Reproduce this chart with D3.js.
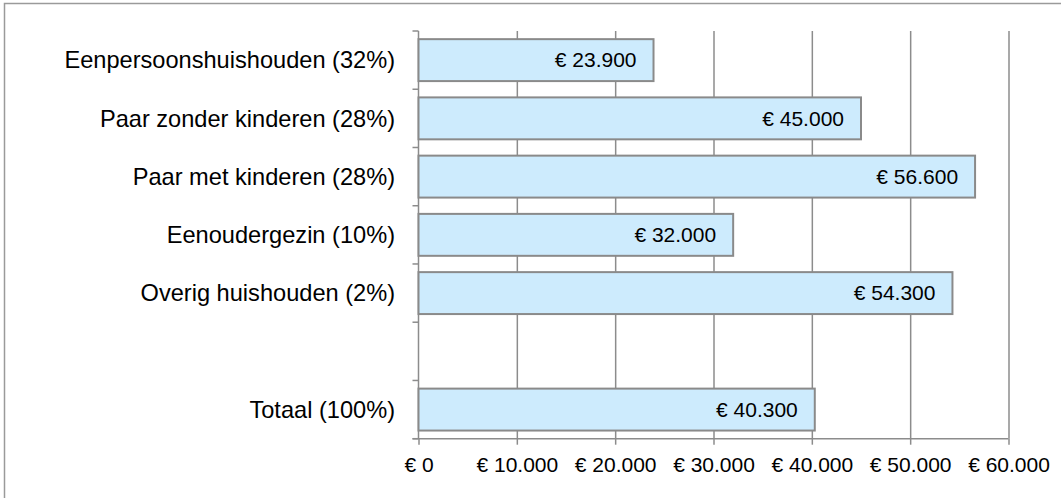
<!DOCTYPE html>
<html>
<head>
<meta charset="utf-8">
<script src="https://cdn.jsdelivr.net/npm/d3@7"></script>
<style>
    body { margin: 0; background: #fff; }
    svg { display: block; font-family: Arial, "Liberation Sans", sans-serif; }
    .cat text { font-size: 23.6px; fill: #000; }
    .x.axis text { font-size: 21px; fill: #000; }
    .val { font-size: 21px; fill: #000; }
</style>
</head>
<body>
<div id="chart"></div>
<script>
// household types, the blank entry is the gap before the total
var categories = ["Eenpersoonshuishouden (32%)", "Paar zonder kinderen (28%)", "Paar met kinderen (28%)",
    "Eenoudergezin (10%)", "Overig huishouden (2%)", "", "Totaal (100%)"];
var values = [23900, 45000, 56600, 32000, 54300, null, 40300];
var tickValues = [0, 10000, 20000, 30000, 40000, 50000, 60000];

var width = 1061, height = 498;
var margin = { top: 31, bottom: 59.3, left: 418.5, right: 52.5 };

var nl = d3.formatLocale({ decimal: ",", thousands: ".", grouping: [3], currency: ["€ ", ""] });
var euro = function (v) { return "€ " + nl.format(",")(v); };

var svg = d3.select("#chart").append("svg")
    .attr("width", width)
    .attr("height", height);

// outer frame (runs off the right and bottom edge)
svg.append("rect")
    .attr("x", 4.5).attr("y", 3.5)
    .attr("width", width + 20).attr("height", height + 20)
    .attr("fill", "none")
    .attr("stroke", "#9a9a9a")
    .attr("stroke-width", 1.5);

var xScale = d3.scaleLinear()
    .domain([0, 60000])
    .range([margin.left, width - margin.right]);

var yScale = d3.scaleBand()
    .domain(categories)
    .range([margin.top, height - margin.bottom])
    .padding(0);

var barH = yScale.bandwidth() * 0.72;
var y0 = yScale.range()[1];

// vertical grid
svg.append("g")
    .attr("class", "grid")
    .attr("transform", "translate(0," + y0 + ")")
    .call(d3.axisBottom(xScale).tickValues(tickValues.slice(1)).tickSize(-(y0 - margin.top)).tickFormat(""))
    .call(g => g.select(".domain").remove())
    .call(g => g.selectAll("line").attr("stroke", "#8c8c8c").attr("stroke-width", 1.5));

// left axis line + ticks at band boundaries
var bounds = categories.map(function (c) { return yScale(c); }).concat([y0]);
var left = svg.append("g").attr("class", "y axis");
left.append("line")
    .attr("x1", margin.left).attr("x2", margin.left)
    .attr("y1", margin.top).attr("y2", y0)
    .attr("stroke", "#8c8c8c").attr("stroke-width", 1.5);
left.selectAll(".btick")
    .data(bounds)
    .enter().append("line")
    .attr("class", "btick")
    .attr("x1", margin.left - 6).attr("x2", margin.left)
    .attr("y1", function (d) { return d; }).attr("y2", function (d) { return d; })
    .attr("stroke", "#8c8c8c").attr("stroke-width", 1.5);

// category labels
svg.append("g")
    .attr("class", "cat")
    .attr("transform", "translate(" + margin.left + ",0)")
    .call(d3.axisLeft(yScale).tickSize(0).tickPadding(23.5))
    .call(g => g.select(".domain").remove())
    .call(g => g.selectAll("text").attr("dy", "0.35em"));

var rows = categories.map(function (c, i) { return { key: c, value: values[i] }; })
    .filter(function (d) { return d.value != null; });

// bars
svg.append("g")
    .attr("class", "bars")
    .selectAll("rect")
    .data(rows)
    .enter().append("rect")
    .attr("x", xScale(0))
    .attr("y", function (d) { return yScale(d.key) + (yScale.bandwidth() - barH) / 2; })
    .attr("width", function (d) { return xScale(d.value) - xScale(0); })
    .attr("height", barH)
    .attr("fill", "#cdebfd")
    .attr("stroke", "#8a8a8a")
    .attr("stroke-width", 2);

// value labels
svg.append("g")
    .selectAll("text")
    .data(rows)
    .enter().append("text")
    .attr("class", "val")
    .attr("x", function (d) { return xScale(d.value) - 17; })
    .attr("y", function (d) { return yScale(d.key) + yScale.bandwidth() / 2; })
    .attr("dy", "0.35em")
    .attr("text-anchor", "end")
    .text(function (d) { return euro(d.value); });

// bottom axis
svg.append("g")
    .attr("class", "x axis")
    .attr("transform", "translate(0," + y0 + ")")
    .call(d3.axisBottom(xScale).tickValues(tickValues).tickSize(6).tickPadding(12).tickFormat(euro))
    .call(g => g.select(".domain").attr("stroke", "#8c8c8c").attr("stroke-width", 1.5).attr("d", "M" + (margin.left - 6) + ",0H" + xScale(60000)))
    .call(g => g.selectAll(".tick line").attr("stroke", "#8c8c8c").attr("stroke-width", 1.5));
</script>
</body>
</html>
